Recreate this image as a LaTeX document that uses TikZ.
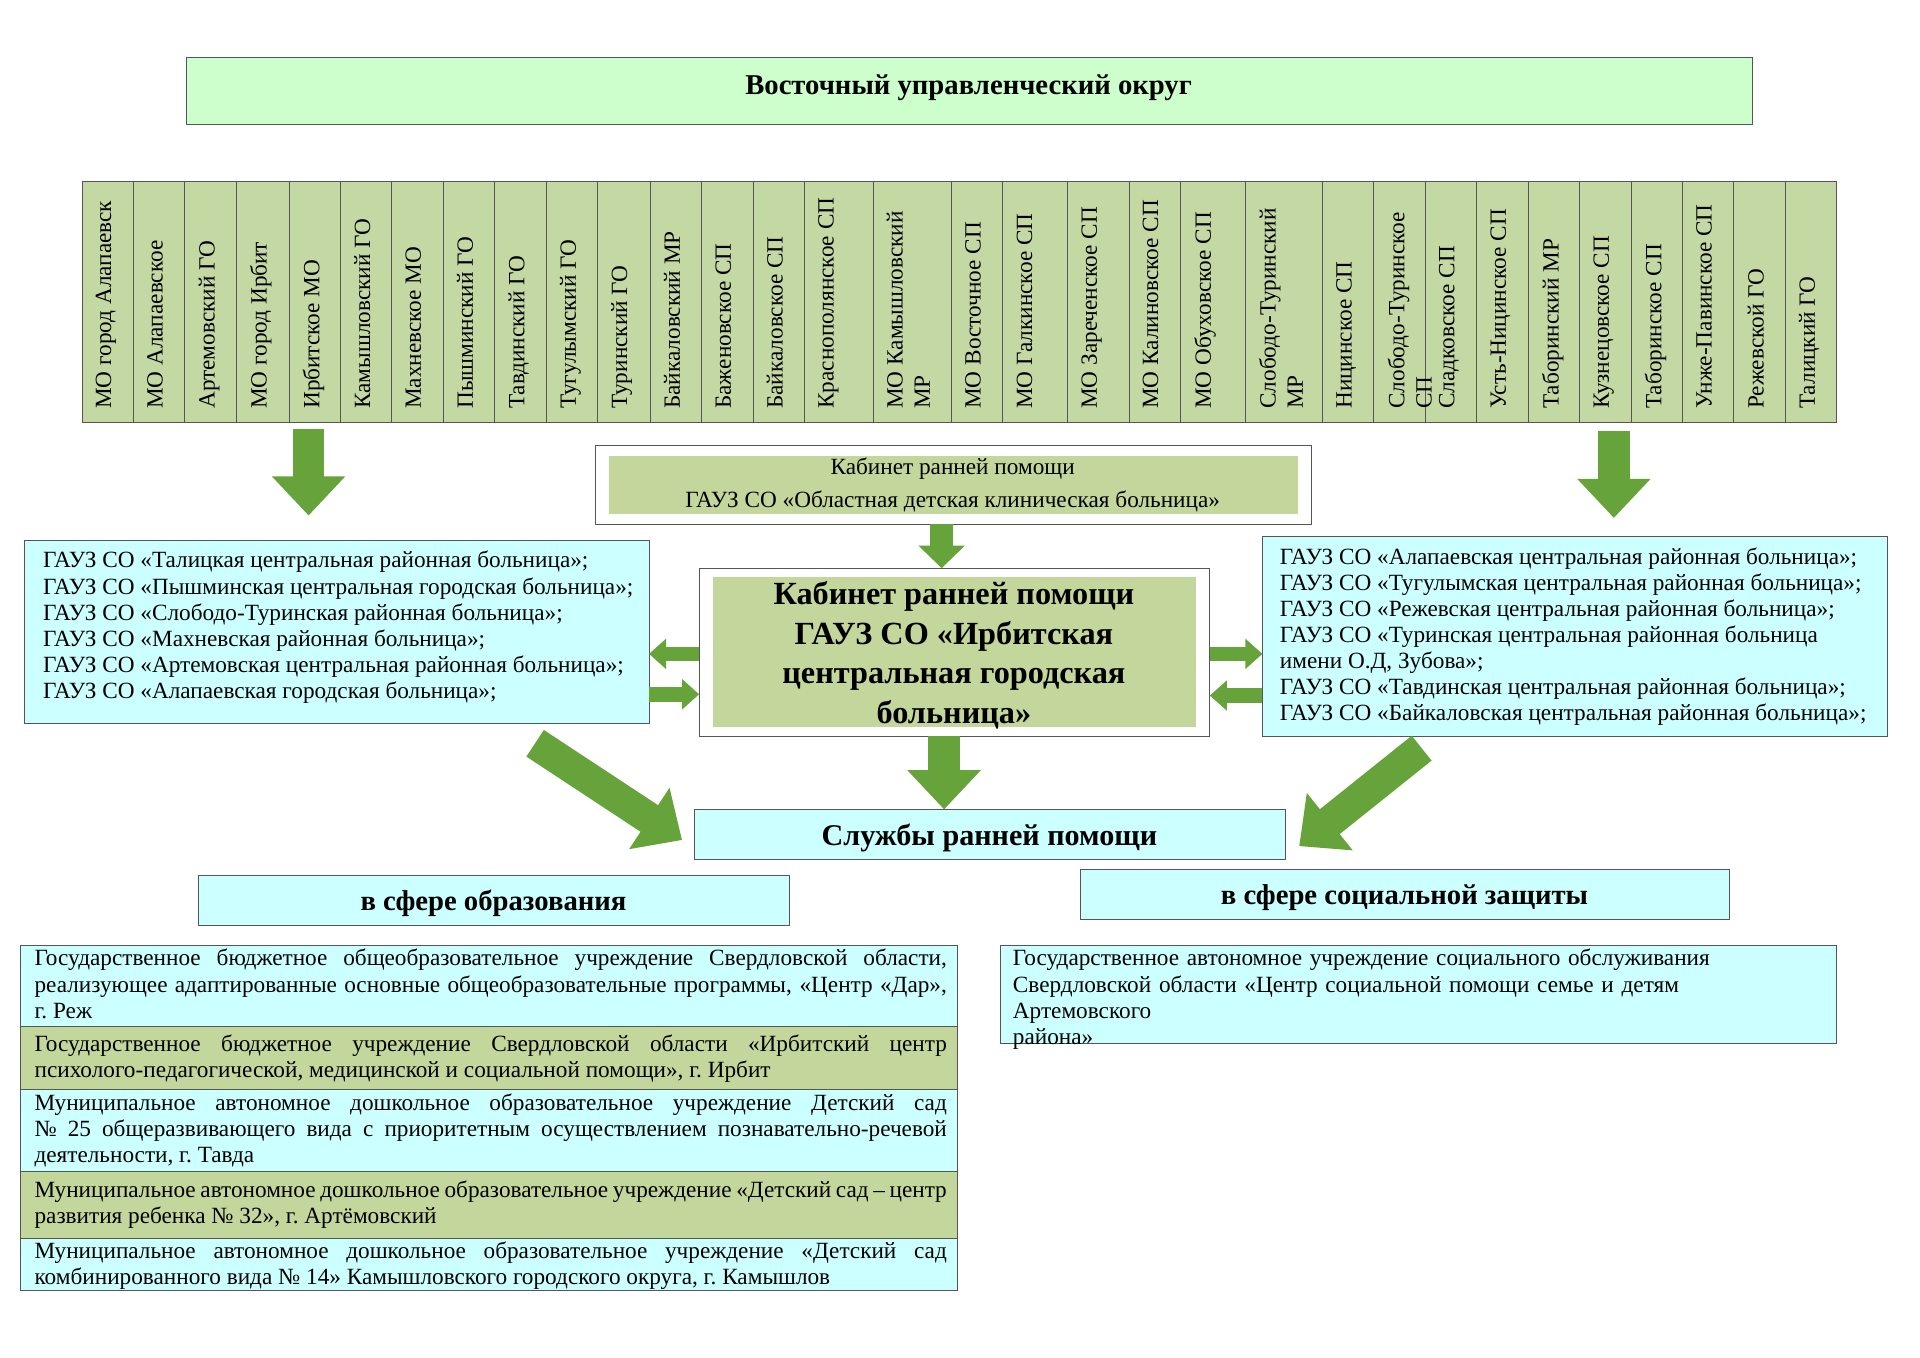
\documentclass[tikz,border=0pt]{standalone}
\usepackage{fontspec}
\setmainfont{Liberation Serif}
\usetikzlibrary{arrows.meta}
\definecolor{colg}{HTML}{C4D8A4}
\definecolor{topg}{HTML}{CCFFCC}
\definecolor{cy}{HTML}{CCFFFF}
\definecolor{ig}{HTML}{C3D69B}
\definecolor{ag}{HTML}{66A33B}
\definecolor{bd}{HTML}{555555}
\tikzset{
 bx/.style={draw=bd,line width=0.6pt},
 body/.style={font=\fontsize{16.2}{18.2}\selectfont},
 big/.style={-{Triangle[width=1.74cm 0,length=0.96cm 0]},line width=0.78cm,draw=ag},
 mid/.style={-{Triangle[width=1.1cm 0,length=0.55cm 0]},line width=0.55cm,draw=ag},
 sm/.style={-{Triangle[width=0.72cm 0,length=0.42cm 0]},line width=0.36cm,draw=ag},
 col/.style={rotate=90,anchor=north west,align=left,font=\fontsize{16.2}{19}\selectfont,inner sep=0pt},
}
\begin{document}
\begin{tikzpicture}[x=0.03cm,y=-0.03cm]
\useasboundingbox (0,0) rectangle (1568,1109);
\fill[white] (0,0) rectangle (1568,1109);
% top
\draw[bx,fill=topg] (152,47) rectangle (1431,102);
\node[font=\fontsize{20}{22}\selectfont\bfseries] (top) at (791,72) {Восточный управленческий округ};
% columns
\foreach \a/\b [count=\i] in {67/109,109/151,151/193,193/236,236/278,278/320,320/362,362/404,404/446,446/488,488/531,531/573,573/615,615/657,657/713,713/777,777/819,819/872,872/922,922/964,964/1017,1017/1080,1080/1122,1122/1164,1164/1206,1206/1248,1248/1290,1290/1332,1332/1374,1374/1416,1416/1458,1458/1500}
  \draw[bx,fill=colg] (\a,148) rectangle (\b,345);
\foreach \x/\t [count=\i] in {
 78/{МО город Алапаевск},120/{МО Алапаевское},162/{Артемовский ГО},204/{МО город Ирбит},247/{Ирбитское МО},289/{Камышловский ГО},331/{Махневское МО},373/{Пышминский ГО},415/{Тавдинский ГО},457/{Тугулымский ГО},499/{Туринский ГО},542/{Байкаловский МР},584/{Баженовское СП},626/{Байкаловское СП},668/{Краснополянское СП},724/{МО Камышловский\\МР},788/{МО Восточное СП},830/{МО Галкинское СП},883/{МО Зареченское СП},933/{МО Калиновское СП},975/{МО Обуховское СП},1028/{Слободо-Туринский\\МР},1091/{Ницинское СП},1133/{Слободо-Туринское\\СП},1175/{Сладковское СП},1217/{Усть-Ницинское СП},1259/{Таборинский МР},1301/{Кузнецовское СП},1343/{Таборинское СП},1385/{Унже-Павинское СП},1427/{Режевской ГО},1469/{Талицкий ГО}}
  \node[col] (c\i) at (\x,334) {\t};
% kabinet
\draw[bx,fill=white] (486,364) rectangle (1071,428);
\fill[ig] (497,372) rectangle (1060,420);
\node[body,align=center] (kab) at (778,396) {Кабинет ранней помощи\\[5pt]ГАУЗ СО «Областная детская клиническая больница»};
% left list
\draw[bx,fill=cy] (20,441) rectangle (530,591);
\node[body,align=left,anchor=north west,inner sep=0pt] (L) at (35,450) {ГАУЗ СО «Талицкая центральная районная больница»;\\ГАУЗ СО «Пышминская центральная городская больница»;\\ГАУЗ СО «Слободо-Туринская районная больница»;\\ГАУЗ СО «Махневская районная больница»;\\ГАУЗ СО «Артемовская центральная районная больница»;\\ГАУЗ СО «Алапаевская городская больница»;};
% right list
\draw[bx,fill=cy] (1031,438) rectangle (1541,601);
\node[body,align=left,anchor=north west,inner sep=0pt] (R) at (1045,447) {ГАУЗ СО «Алапаевская центральная районная больница»;\\ГАУЗ СО «Тугулымская центральная районная больница»;\\ГАУЗ СО «Режевская центральная районная больница»;\\ГАУЗ СО «Туринская центральная районная больница\\имени О.Д, Зубова»;\\ГАУЗ СО «Тавдинская центральная районная больница»;\\ГАУЗ СО «Байкаловская центральная районная больница»;};
% center
\draw[bx,fill=white] (571,464) rectangle (988,601);
\fill[ig] (582,471) rectangle (977,594);
\node[font=\fontsize{22.5}{27.5}\selectfont\bfseries,align=center] (C) at (779,535) {Кабинет ранней помощи\\ГАУЗ СО «Ирбитская\\центральная городская\\больница»};
% services
\draw[bx,fill=cy] (567,661) rectangle (1050,702);
\node[font=\fontsize{21}{22}\selectfont\bfseries] (S) at (808,684) {Службы ранней помощи};
\draw[bx,fill=cy] (162,715) rectangle (645,756);
\node[font=\fontsize{20}{22}\selectfont\bfseries] (E) at (403,738) {в сфере образования};
\draw[bx,fill=cy] (882,710) rectangle (1412,751);
\node[font=\fontsize{20}{22}\selectfont\bfseries] (P) at (1147,733) {в сфере социальной защиты};
% edu rows
\foreach \ya/\yb/\c in {772/838/cy,838/890/ig,890/957/cy,957/1011/ig,1011/1054/cy}
  \draw[bx,fill=\c] (17,\ya) rectangle (782,\yb);
\tikzset{ed/.style={body,anchor=north west,inner sep=0pt,text width=22.35cm,align=justify}}
\node[ed] (e1) at (28,775) {Государственное бюджетное общеобразовательное учреждение Свердловской области, реализующее адаптированные основные общеобразовательные программы, «Центр «Дар», г.~Реж};
\node[ed] (e2) at (28,845) {Государственное бюджетное учреждение Свердловской области «Ирбитский центр психолого-педагогической, медицинской и социальной помощи», г.~Ирбит};
\node[ed] (e3) at (28,893) {Муниципальное автономное дошкольное образовательное учреждение Детский сад №~25 общеразвивающего вида с приоритетным осуществлением познавательно-речевой деятельности, г.~Тавда};
\node[ed] (e4) at (28,964) {Муниципальное автономное дошкольное образовательное учреждение «Детский сад – центр развития ребенка №~32», г.~Артёмовский};
\node[ed] (e5) at (28,1014) {Муниципальное автономное дошкольное образовательное учреждение «Детский сад комбинированного вида №~14» Камышловского городского округа, г.~Камышлов};
\draw[bx,fill=cy] (817,772) rectangle (1500,852);
\node[body,anchor=north west,inner sep=0pt,text width=19.6cm,align=left] (soc) at (827,775) {Государственное автономное учреждение социального обслуживания\\Свердловской области «Центр социальной помощи семье и детям Артемовского\\района»};
% arrows
\coordinate (a1) at (252,350); \coordinate (a2) at (252,421);
\draw[big] (a1) -- (a2);
\coordinate (b1) at (1318,352); \coordinate (b2) at (1318,423);
\draw[big] (b1) -- (b2);
\coordinate (k1) at (769,428); \coordinate (k2) at (769,464);
\draw[mid] (k1) -- (k2);
\coordinate (m1) at (771,601); \coordinate (m2) at (771,661);
\draw[big] (m1) -- (m2);
\coordinate (d1) at (437,607); \coordinate (d2) at (557,686);
\draw[big] (d1) -- (d2);
\coordinate (f1) at (1161,611); \coordinate (f2) at (1061,691);
\draw[big] (f1) -- (f2);
\draw[sm] (571,534) -- (530,534);
\draw[sm] (530,567) -- (571,567);
\draw[sm] (988,534) -- (1031,534);
\draw[sm] (1031,568) -- (988,568);
\end{tikzpicture}
\end{document}
